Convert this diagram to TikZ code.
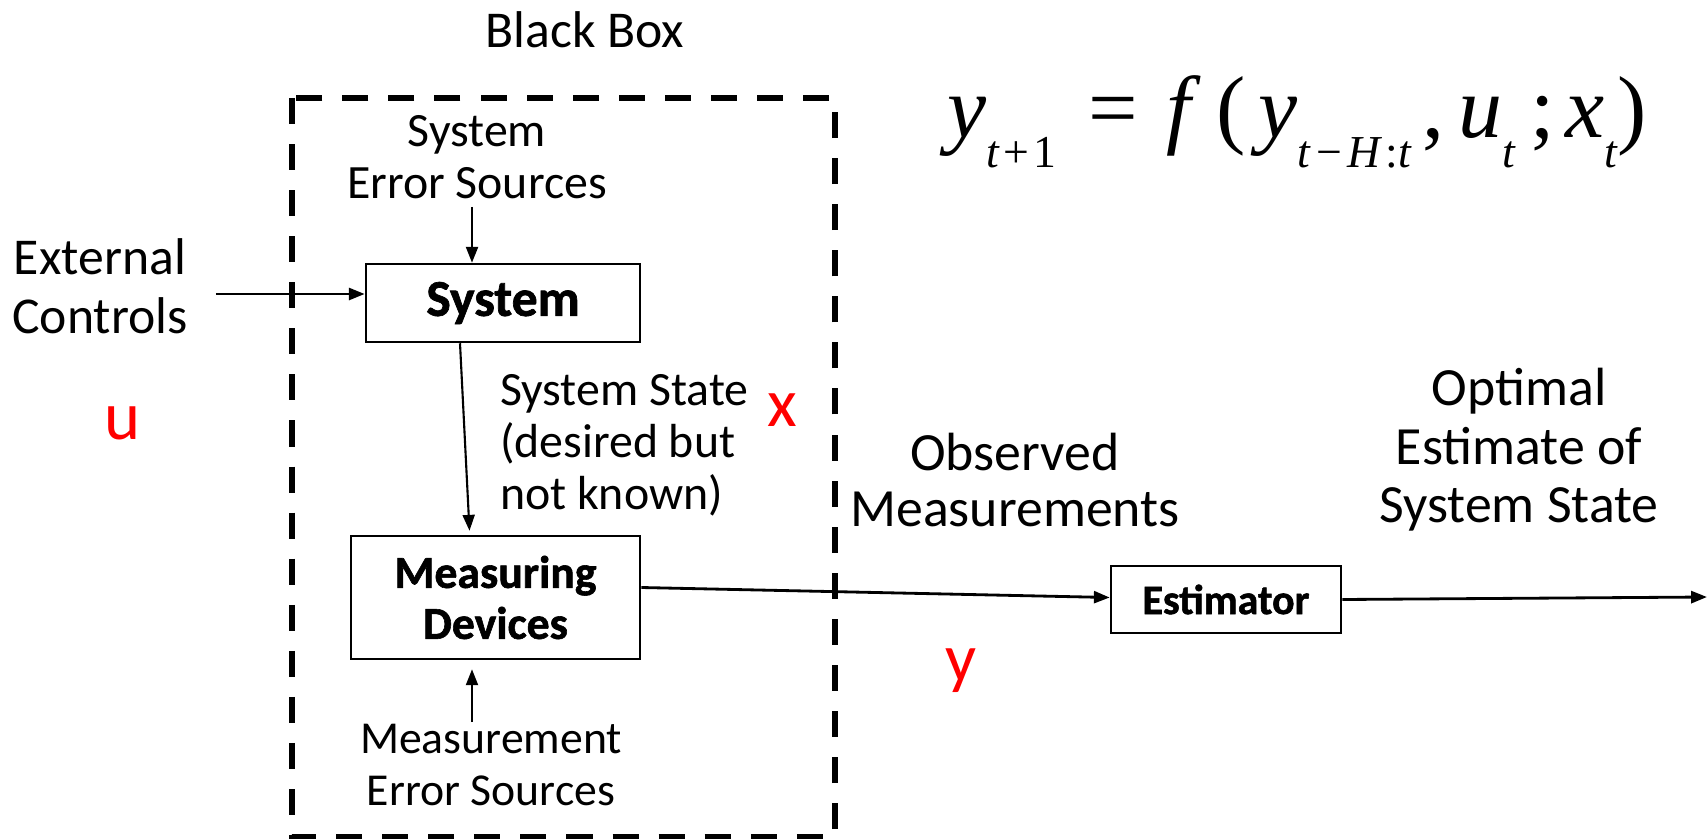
\documentclass[tikz,border=0pt]{standalone}
\usepackage{amsmath}
\usepackage{fontspec}
\setmainfont{Carlito}[BoldFeatures={FakeBold=1.3}]
\newfontfamily\eqfont{Liberation Serif}
\newcommand{\lowsub}[1]{\raisebox{-8.5pt}{\fontsize{13}{14}\selectfont #1}}
\usetikzlibrary{arrows.meta, positioning, calc}
\tikzset{
    block/.style={
        rectangle,
        draw=black,
        line width=0.7pt,
        align=center,
        inner sep=0pt,
    },
    caption/.style={
        align=center,
        inner sep=2pt,
        font=\fontsize{14.7}{16.8}\selectfont,
    },
    note/.style={
        align=center,
        inner sep=2pt,
        font=\fontsize{13.6}{14.8}\selectfont,
    },
    var/.style={
        text=red,
        inner sep=0pt,
        font=\fontsize{19.5}{22}\selectfont,
    },
}
\begin{document}
\begin{tikzpicture}[x=0.01cm, y=-0.01cm, line width=0.6pt, >={Triangle[length=4.5pt,width=3.4pt]}]
          \useasboundingbox (0,0) rectangle (1708,839);

          % the black box
          \node [caption] (bb) at (585,30) {Black Box};
          \draw [line width=1.8pt, dash pattern=on 7.4pt off 5.7pt] (292,98) rectangle (835,837);

          \node [block, minimum width=2.74cm, minimum height=0.78cm, font=\fontsize{14.7}{16}\selectfont\bfseries] (sys) at (503,303) {System};
          \node [block, minimum width=2.89cm, minimum height=1.23cm, font=\fontsize{13}{14.5}\selectfont\bfseries] (meas) at (495.5,597.5) {Measuring\\Devices};
          \node [block, minimum width=2.30cm, minimum height=0.67cm, font=\fontsize{11.9}{13}\selectfont\bfseries] (est) at (1226,599.5) {Estimator};

          \node [note] (syserr) at (477,157) {System\\Error Sources};
          \node [note, font=\fontsize{13}{14.8}\selectfont] (measerr) at (491,765) {Measurement\\Error Sources};
          \node [note, align=left, anchor=west] (state) at (492,445) {System State\\(desired but\\not known)};
          \node [caption] (ext) at (100,286) {External\\Controls};
          \node [caption, font=\fontsize{15.3}{16.2}\selectfont] (obs) at (1015,480) {Observed\\Measurements};
          \node [caption, font=\fontsize{15.3}{16.6}\selectfont] (opt) at (1519,450) {Optimal\\Estimate of\\System State};

          \node [var] (u) at (123,423) {u};
          \node [var] (x) at (782,410) {x};
          \node [var] (y) at (961,671) {y};

          % the model
          \node [inner sep=0pt, anchor=west, font=\eqfont\fontsize{25}{27}\selectfont] (eq) at (946,122)
            {\textit{y}\lowsub{\textit{t}\hspace{1.2pt}+\hspace{1.2pt}1}\hspace{9pt}=\hspace{8pt}\textit{f}\hspace{4.5pt}(\hspace{3.5pt}\textit{y}\lowsub{\textit{t}\hspace{1.5pt}−\hspace{1.5pt}\textit{H}\hspace{1pt}:\textit{t}}\hspace{3pt},\hspace{4pt}\textit{u}\lowsub{\textit{t}}\hspace{4pt};\hspace{3pt}\textit{x}\lowsub{\textit{t}}\hspace{0pt})};

          \coordinate (out) at (1707,597);

          \draw [->, line width=0.8pt] ($(ext.east)+(20,8)$) -- ($(sys.west)+(0,-9)$);
          \draw [->] ($(syserr.south)+(-5,0)$) -- ($(sys.north)+(-31,0)$);
          \draw [->] ($(sys.south)+(-43,0)$) -- ($(meas.north)+(-26,-4)$);
          \draw [->] ($(measerr.north)+(-19,6)$) -- ($(meas.south)+(-23.5,9)$);
          \draw [->, line width=0.8pt] ($(meas.east)+(0,-10)$) -- ($(est.west)+(0,-2)$);
          \draw [->, line width=0.8pt] (est.east) -- (out);
        \end{tikzpicture}
\end{document}
